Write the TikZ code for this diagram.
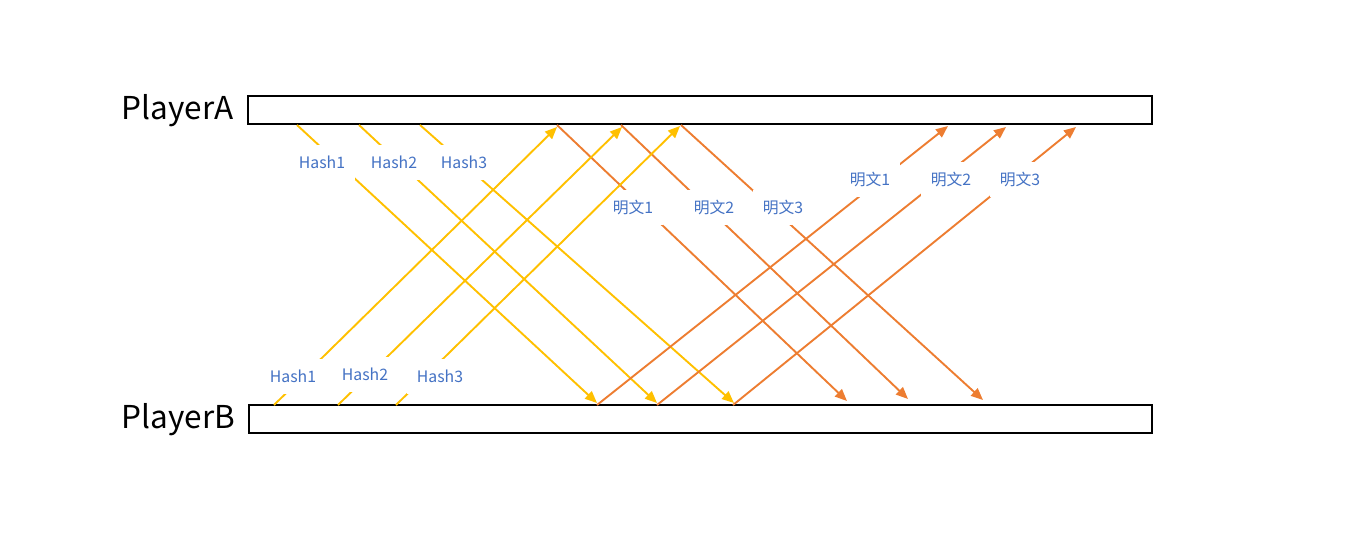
\documentclass[tikz,border=0pt]{standalone}
\usepackage{fontspec}
\setmainfont{Noto Sans CJK SC}
\usetikzlibrary{arrows.meta}
\definecolor{ylw}{HTML}{FFC000}
\definecolor{org}{HTML}{ED7D31}
\definecolor{lbl}{HTML}{4472C4}
\begin{document}
\begin{tikzpicture}[x=1pt,y=-1pt,
  bar/.style={draw=black,line width=2.2pt,fill=white,inner sep=0pt,minimum height=28pt},
  player/.style={font=\fontsize{31.5}{33}\selectfont,inner sep=0pt},
  msg/.style={line width=1.9pt,-{Triangle[length=12pt,width=10pt]}},
  ymsg/.style={msg,draw=ylw},
  omsg/.style={msg,draw=org},
  tag/.style={fill=white,text=lbl,font=\fontsize{15.8}{17}\selectfont,inner xsep=10pt,inner ysep=0pt,minimum height=35pt}]
\useasboundingbox (0,0) rectangle (1355,533);
\node[bar,minimum width=904pt] (A) at (700,110) {};
\node[bar,minimum width=903pt] (B) at (700.5,419) {};
\node[player] (pa) at (177.5,111) {PlayerA};
\node[player] (pb) at (178.5,420) {PlayerB};
% endpoints
\coordinate (yd1s) at (297,125); \coordinate (yd1e) at (597,403);
\coordinate (yd2s) at (359,125); \coordinate (yd2e) at (657,403);
\coordinate (yd3s) at (420,125); \coordinate (yd3e) at (734,403);
\coordinate (yu1s) at (274,405); \coordinate (yu1e) at (557,127);
\coordinate (yu2s) at (338,405); \coordinate (yu2e) at (622,127);
\coordinate (yu3s) at (396,405); \coordinate (yu3e) at (680,126);
\coordinate (od1s) at (557,125); \coordinate (od1e) at (847,401);
\coordinate (od2s) at (621,125); \coordinate (od2e) at (908,399);
\coordinate (od3s) at (681,125); \coordinate (od3e) at (983,400);
\coordinate (ou1s) at (597,405); \coordinate (ou1e) at (948,126);
\coordinate (ou2s) at (657,405); \coordinate (ou2e) at (1006,127);
\coordinate (ou3s) at (733,405); \coordinate (ou3e) at (1076,127);
% orange down
\draw[omsg] (od1s) -- (od1e);
\draw[omsg] (od2s) -- (od2e);
\draw[omsg] (od3s) -- (od3e);
\node[tag] (m1) at (633,207) {明文1};
\node[tag] (m2) at (714,207) {明文2};
\node[tag] (m3) at (783,207) {明文3};
% yellow
\draw[ymsg] (yd1s) -- (yd1e);
\draw[ymsg] (yd2s) -- (yd2e);
\draw[ymsg] (yd3s) -- (yd3e);
\draw[ymsg] (yu1s) -- (yu1e);
\draw[ymsg] (yu2s) -- (yu2e);
\draw[ymsg] (yu3s) -- (yu3e);
\node[tag] (h1) at (322,162) {Hash1};
\node[tag] (h2) at (394,162) {Hash2};
\node[tag] (h3) at (464,162) {Hash3};
\node[tag] (hb1) at (293,376) {Hash1};
\node[tag] (hb2) at (365,374) {Hash2};
\node[tag] (hb3) at (440,376) {Hash3};
% orange up
\draw[omsg] (ou1s) -- (ou1e);
\draw[omsg] (ou2s) -- (ou2e);
\draw[omsg] (ou3s) -- (ou3e);
\node[tag] (n1) at (870,179) {明文1};
\node[tag] (n2) at (951,179) {明文2};
\node[tag] (n3) at (1020,179) {明文3};
\end{tikzpicture}
\end{document}
